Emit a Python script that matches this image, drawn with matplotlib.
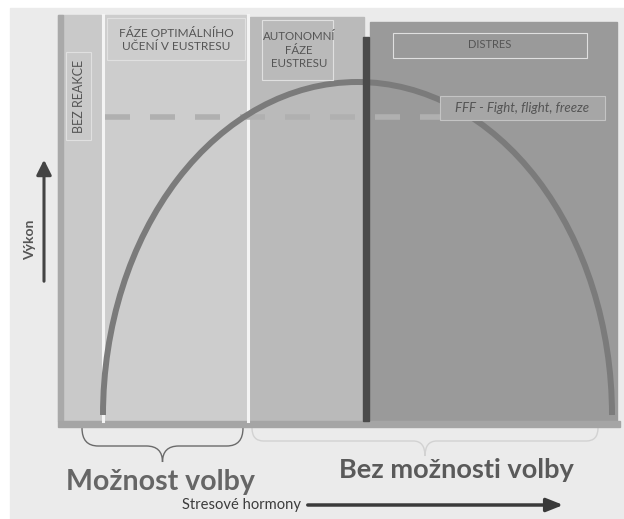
import matplotlib.pyplot as plt
from matplotlib.patches import Rectangle, Arc, PathPatch
from matplotlib.path import Path

plt.rcParams['font.family'] = ['Lato', 'DejaVu Sans']

# Zones of the stress curve (labels, left/right edge, top edge)
zone_labels = ["BEZ REAKCE", "FÁZE OPTIMÁLNÍHO\nUČENÍ V EUSTRESU",
               "AUTONOMNÍ\nFÁZE\nEUSTRESU", "DISTRES"]
zone_left = [58, 105, 250, 370]
zone_right = [101, 246, 364, 617]
zone_top = [15, 15, 17, 22]
zone_bottom = 421

# performance curve: half ellipse (start, end, base, peak)
curve_start, curve_end = 103, 612
curve_base, curve_peak = 415, 82

# threshold (dashed) line
threshold_y = 117
threshold_x = [105, 440]

fig = plt.figure(figsize=(6.24, 5.19), dpi=100)
fig.patch.set_facecolor('white')
ax = fig.add_axes([0, 0, 1, 1])
ax.set_xlim(0, 624)
ax.set_ylim(519, 0)
ax.axis('off')

# page background (photo)
ax.add_patch(Rectangle((10, 8), 614, 511, color='#ebebeb', zorder=0))

shades = ['#c9c9c9', '#cdcdcd', '#bababa', '#9a9a9a']
for l, r, t, c in zip(zone_left, zone_right, zone_top, shades):
    ax.add_patch(Rectangle((l, t), r - l, zone_bottom - t, color=c, zorder=1))
# darker left strip & bottom strip
ax.add_patch(Rectangle((58, 15), 5, zone_bottom - 15, color='#a9a9a9', zorder=1.5))
ax.add_patch(Rectangle((58, zone_bottom), 562, 6, color='#a5a5a5', zorder=1.5))
# white separators
for x in [102.5, 248]:
    ax.plot([x, x], [15, zone_bottom], color='#f4f4f4', lw=2.2, zorder=1.6)
# dark divider
ax.add_patch(Rectangle((363, 37), 6, zone_bottom - 37, color='#4a4a4a', zorder=3))

# dashed threshold
ax.plot(threshold_x, [threshold_y, threshold_y], color='#b0b0b0', lw=4,
        dashes=(4.5, 3.6), zorder=2)

# curve
cx = (curve_start + curve_end) / 2
ax.add_patch(Arc((cx, curve_base), curve_end - curve_start,
                 2 * (curve_base - curve_peak), theta1=180, theta2=360,
                 color='#7b7b7b', lw=4.3, zorder=2.5))

# label boxes
box_pos = [(66, 52, 25, 88), (107, 18, 138, 42), (262, 20, 71, 60), (393, 33, 194, 25)]
for (x, y, w, h) in box_pos:
    ax.add_patch(Rectangle((x, y), w, h, fill=False, ec='#e0e0e0', lw=0.8, zorder=3))
ax.text(79, 96, zone_labels[0], rotation=90, ha='center', va='center',
        fontsize=9, color='#555555', zorder=4)
ax.text(176, 40, zone_labels[1], ha='center', va='center', fontsize=8.6,
        color='#555555', linespacing=1.25, zorder=4)
ax.text(299, 50, zone_labels[2], ha='center', va='center', fontsize=8.3,
        color='#555555', linespacing=1.25, zorder=4)
ax.text(490, 45, zone_labels[3], ha='center', va='center', fontsize=8,
        color='#555555', zorder=4)

ax.add_patch(Rectangle((440, 96), 165, 24, color='#a6a6a6', ec='#c4c4c4',
                       lw=0.8, zorder=3))
ax.text(522, 108, "FFF - Fight, flight, freeze", ha='center', va='center',
        fontsize=9.5, style='italic', color='#555555', zorder=4)

# y axis arrow
ax.annotate('', xy=(44, 157), xytext=(44, 284),
            arrowprops=dict(arrowstyle='-|>,head_width=0.45,head_length=0.9',
                            color='#444444', lw=2.2))
ax.text(30, 240, "Výkon", rotation=90, ha='center', va='center',
        fontsize=10, fontweight='bold', color='#555555')


def brace(x0, x1, ytop, ymid, ytip, color, lw):
    xm = (x0 + x1) / 2
    q = (ymid - ytop) * 0.9
    verts = [(x0, ytop), (x0, ymid), (x0 + q, ymid), (xm - q, ymid),
             (xm, ymid), (xm, ytip), (xm, ymid), (xm + q, ymid),
             (x1 - q, ymid), (x1, ymid), (x1, ytop)]
    codes = [Path.MOVETO, Path.CURVE3, Path.CURVE3, Path.LINETO,
             Path.CURVE3, Path.CURVE3, Path.CURVE3, Path.CURVE3,
             Path.LINETO, Path.CURVE3, Path.CURVE3]
    ax.add_patch(PathPatch(Path(verts, codes), fill=False, ec=color, lw=lw))


brace(82, 243, 428, 446, 462, '#6a6a6a', 1.0)
brace(252, 598, 428, 441, 456, '#d2d2d2', 1.0)

ax.text(160, 482, "Možnost volby", ha='center', va='center', fontsize=20.5,
        fontweight='bold', color='#666666')
ax.text(456, 470, "Bez možnosti volby", ha='center', va='center', fontsize=19.5,
        fontweight='bold', color='#5a5a5a')
ax.text(241, 505, "Stresové hormony", ha='center', va='center', fontsize=10.6,
        color='#3c3c3c')
ax.annotate('', xy=(566, 505), xytext=(305, 505),
            arrowprops=dict(arrowstyle='-|>,head_width=0.4,head_length=1.0',
                            color='#3a3a3a', lw=2.5))

fig.savefig('out.png', dpi=100)
